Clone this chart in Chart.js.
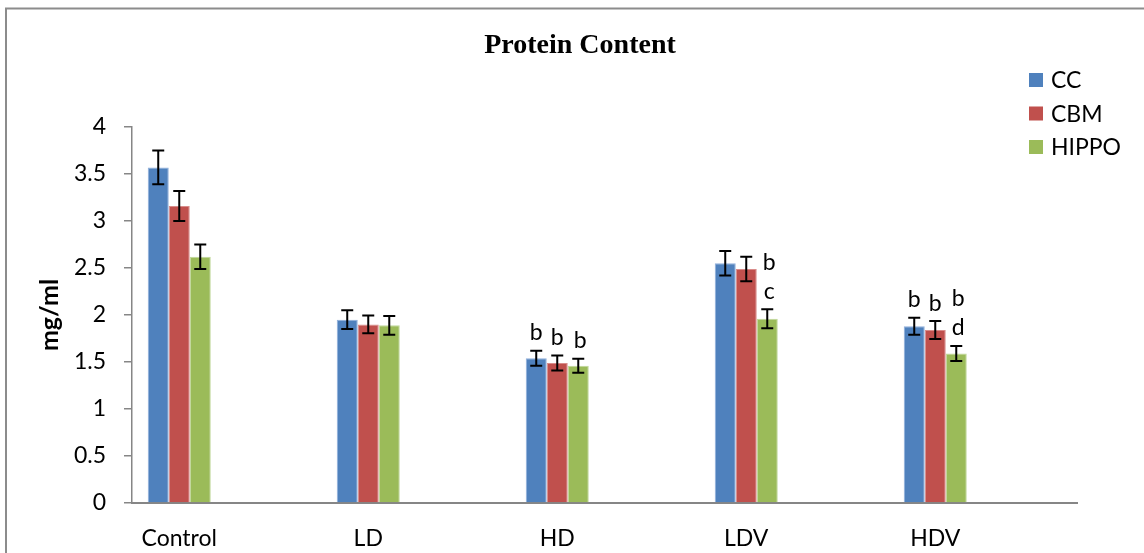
<!DOCTYPE html>
<html lang="en">
<head>
    <meta charset="UTF-8">
    <title>Protein Content</title>
    <style>
        html, body { margin: 0; padding: 0; background: #fff; overflow: hidden; }
        canvas { display: block; }
    </style>
</head>
<body>
    <canvas id="bar" width="1144" height="553" style="width:1144px;height:553px"></canvas>
    <script src="https://cdn.jsdelivr.net/npm/chart.js@4.4.0/dist/chart.umd.min.js"></script>
    <script>
        // categories (blank ones are the empty slots Excel left between groups)
        const groups = ['Control', '', 'LD', '', 'HD', '', 'LDV', '', 'HDV', '']
        const seriesNames = ['CC', 'CBM', 'HIPPO']

        const ccValues = [3.57, null, 1.95, null, 1.54, null, 2.55, null, 1.88, null]
        const cbmValues = [3.16, null, 1.90, null, 1.49, null, 2.49, null, 1.84, null]
        const hippoValues = [2.62, null, 1.89, null, 1.46, null, 1.96, null, 1.59, null]

        const ccErrors = [0.18, null, 0.10, null, 0.08, null, 0.13, null, 0.09, null]
        const cbmErrors = [0.16, null, 0.095, null, 0.08, null, 0.13, null, 0.095, null]
        const hippoErrors = [0.13, null, 0.10, null, 0.075, null, 0.10, null, 0.08, null]

        // significance letters above the bars (bottom line nearest the bar)
        const ccLetters = ['', '', '', '', 'b', '', '', '', 'b', '']
        const cbmLetters = ['', '', '', '', 'b', '', '', '', 'b', '']
        const hippoLetters = ['', '', '', '', 'b', '', 'b\nc', '', 'b\nd', '']

        const yTicks = [0, 0.5, 1, 1.5, 2, 2.5, 3, 3.5, 4]

        const fillColors = ['#4f81bd', '#c0504d', '#9bbb59']
        const edgeColors = ['#8eaedb', '#d98c8a', '#c0d89a']
        const textFont = 'Lato, "Liberation Sans", sans-serif'

        const errorsBySeries = [ccErrors, cbmErrors, hippoErrors]
        const lettersBySeries = [ccLetters, cbmLetters, hippoLetters]

        const errorBars = {
            id: 'errorBars',
            afterDatasetsDraw(chart) {
                const ctx = chart.ctx
                const y = chart.scales.y
                ctx.save()
                ctx.strokeStyle = '#000'
                ctx.lineWidth = 2
                chart.data.datasets.forEach((ds, i) => {
                    const meta = chart.getDatasetMeta(i)
                    meta.data.forEach((bar, j) => {
                        const v = ds.data[j]
                        const e = errorsBySeries[i][j]
                        if (v == null || e == null) return
                        const top = y.getPixelForValue(v + e)
                        const bot = y.getPixelForValue(v - e)
                        ctx.beginPath()
                        ctx.moveTo(bar.x, top)
                        ctx.lineTo(bar.x, bot)
                        ctx.moveTo(bar.x - 6, top)
                        ctx.lineTo(bar.x + 6, top)
                        ctx.moveTo(bar.x - 6, bot)
                        ctx.lineTo(bar.x + 6, bot)
                        ctx.stroke()
                    })
                })
                ctx.fillStyle = '#000'
                ctx.font = '23px ' + textFont
                ctx.textAlign = 'center'
                ctx.textBaseline = 'middle'
                chart.data.datasets.forEach((ds, i) => {
                    const meta = chart.getDatasetMeta(i)
                    meta.data.forEach((bar, j) => {
                        const txt = lettersBySeries[i][j]
                        if (!txt) return
                        const top = y.getPixelForValue(ds.data[j] + errorsBySeries[i][j])
                        const lines = txt.split('\n').reverse()
                        lines.forEach((l, k) => {
                            ctx.fillText(l, bar.x + (i === 2 ? 2 : 0), top - 18 - k * 29)
                        })
                    })
                })
                ctx.restore()
            }
        }

        const frameTitleLegend = {
            id: 'frameTitleLegend',
            afterDraw(chart) {
                const ctx = chart.ctx
                ctx.save()
                // chart border
                ctx.strokeStyle = '#8c8c8c'
                ctx.lineWidth = 2
                ctx.beginPath()
                ctx.moveTo(6, 553)
                ctx.lineTo(6, 8.5)
                ctx.lineTo(1144, 8.5)
                ctx.stroke()
                // title
                ctx.fillStyle = '#000'
                ctx.font = 'bold 28px "Liberation Serif", "DejaVu Serif", serif'
                ctx.textAlign = 'center'
                ctx.textBaseline = 'middle'
                ctx.fillText('Protein Content', 580, 46)
                // legend
                ctx.font = '23px ' + textFont
                ctx.textAlign = 'left'
                chart.data.datasets.forEach((ds, i) => {
                    const cy = 80 + i * 33.5
                    ctx.fillStyle = fillColors[i]
                    ctx.fillRect(1029, cy - 7, 14, 14)
                    ctx.fillStyle = '#000'
                    ctx.fillText(ds.label, 1051, cy + 1)
                })
                ctx.restore()
            }
        }

        const barCtx = document.getElementById('bar')
        const barChart = new Chart(barCtx, {
            type: 'bar',
            data: {
                labels: groups,
                datasets: [
                    { label: seriesNames[0], data: ccValues },
                    { label: seriesNames[1], data: cbmValues },
                    { label: seriesNames[2], data: hippoValues }
                ].map((d, i) => Object.assign(d, {
                    backgroundColor: fillColors[i],
                    borderColor: edgeColors[i],
                    borderWidth: 1,
                    categoryPercentage: 0.667,
                    barPercentage: 1
                }))
            },
            options: {
                responsive: false,
                animation: false,
                devicePixelRatio: 1,
                layout: { padding: { left: 0, right: 67, top: 127, bottom: 0 } },
                plugins: {
                    legend: { display: false },
                    title: { display: false },
                    tooltip: { enabled: false }
                },
                scales: {
                    x: {
                        grid: { display: false, drawTicks: false },
                        border: { color: '#868686', width: 2 },
                        ticks: {
                            color: '#000',
                            font: { family: textFont, size: 23 },
                            padding: 22,
                            autoSkip: false,
                            maxRotation: 0
                        },
                        afterFit(s) { s.height = 50 }
                    },
                    y: {
                        min: 0,
                        max: 4,
                        afterBuildTicks(s) { s.ticks = yTicks.map(v => ({ value: v })) },
                        grid: { drawOnChartArea: false, tickLength: 8, color: '#868686', lineWidth: 1.5 },
                        border: { color: '#868686', width: 1.5 },
                        ticks: {
                            color: '#000',
                            font: { family: textFont, size: 23 },
                            padding: 18,
                            callback: v => String(v)
                        },
                        title: {
                            display: true,
                            text: 'mg/ml',
                            color: '#000',
                            font: { family: textFont, size: 25, weight: 'bold' },
                            padding: { top: 35 }
                        },
                        afterFit(s) { s.width = 132 }
                    }
                }
            },
            plugins: [errorBars, frameTitleLegend]
        })
    </script>
</body>
</html>
